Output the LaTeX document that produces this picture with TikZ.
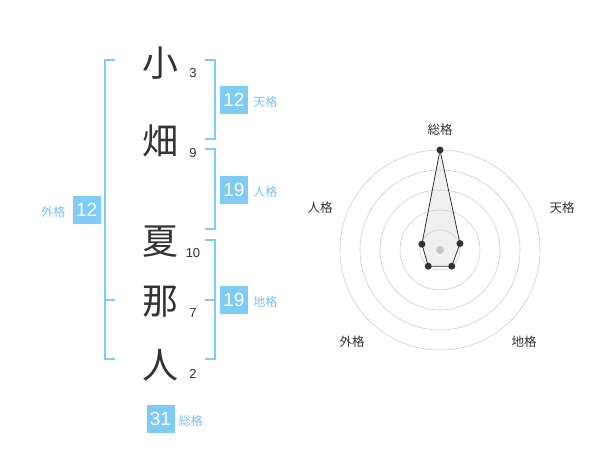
\documentclass[tikz,border=0pt]{standalone}
\usepackage{fontspec}
\setmainfont{Liberation Sans}
\newfontfamily\cjk{Noto Sans CJK JP}
\usetikzlibrary{positioning,calc}
\definecolor{kakublue}{RGB}{126,203,246}
\definecolor{lbltext}{RGB}{120,192,236}
\definecolor{inkgray}{RGB}{51,51,51}

\begin{document}
\begin{tikzpicture}[x=1pt,y=-1pt,
   kanji/.style={font=\cjk\fontsize{36}{36}\selectfont,text=inkgray,inner sep=0pt},
   cnt/.style={font=\fontsize{13}{13}\selectfont,text=inkgray,inner sep=0pt},
   numbox/.style={fill=kakublue,text=white,font=\fontsize{19}{19}\selectfont,minimum size=28pt,inner sep=0pt},
   kaku/.style={font=\cjk\fontsize{12}{12}\selectfont,text=lbltext,inner sep=0pt},
   brk/.style={kakublue,line width=1.6pt},
   axlab/.style={font=\cjk\fontsize{12.5}{12.5}\selectfont,text=inkgray,inner sep=0pt},
   ring/.style={draw=gray!40,line width=0.6pt},
   dot/.style={circle,fill=inkgray,inner sep=0pt,minimum size=7pt}]
  \useasboundingbox (0,0) rectangle (600,470);

  % name and stroke counts
  \node[kanji] (c1) at (160,63) {小};
  \node[kanji] (c2) at (160,141) {畑};
  \node[kanji] (c3) at (160,242) {夏};
  \node[kanji] (c4) at (160,302) {那};
  \node[kanji] (c5) at (160,365) {人};
  \node[cnt] (n1) at (193,73) {3};
  \node[cnt] (n2) at (193,153) {9};
  \node[cnt] (n3) at (193,253) {10};
  \node[cnt] (n4) at (193,313) {7};
  \node[cnt] (n5) at (193,374) {2};

  % brackets
  \draw[brk] (115,60) -- (105,60) -- (105,359) -- (115,359);
  \draw[brk] (105,300) -- (115,300);
  \draw[brk] (205,60) -- (215,60) -- (215,139) -- (205,139);
  \draw[brk] (205,149) -- (215,149) -- (215,229) -- (205,229);
  \draw[brk] (205,240) -- (215,240) -- (215,359) -- (205,359);
  \draw[brk] (205,300) -- (215,300);

  % scores
  \node[numbox] (gai) at (86.7,210) {12};
  \node[kaku,left=7pt of gai,yshift=-2pt] (gailab) {外格};
  \node[numbox] (ten) at (234,100) {12};
  \node[kaku,right=5pt of ten,yshift=-2pt] (tenlab) {天格};
  \node[numbox] (jin) at (234,190) {19};
  \node[kaku,right=5pt of jin,yshift=-2pt] (jinlab) {人格};
  \node[numbox] (chi) at (234,300) {19};
  \node[kaku,right=5pt of chi,yshift=-2pt] (chilab) {地格};
  \node[numbox] (sou) at (160.5,419) {31};
  \node[kaku,right=4pt of sou,yshift=-2pt] (soulab) {総格};

  % radar chart
  \begin{scope}[shift={(440,250)},yscale=-1]
    \coordinate (psou) at (90:100);
    \coordinate (pten) at (18:21);
    \coordinate (pchi) at (-54:20);
    \coordinate (pgai) at (-126:20);
    \coordinate (pjin) at (162:19);
    \fill[gray!12] (psou) -- (pten) -- (pchi) -- (pgai) -- (pjin) -- cycle;
    \foreach \r in {20,40,60,80,100}
      \draw[ring] (0,0) circle[radius=\r];
    \draw[inkgray,line width=0.8pt]
      (psou) -- (pten) -- (pchi) -- (pgai) -- (pjin) -- cycle;
    \fill[gray!45] (0,0) circle[radius=4];
    \foreach \p in {psou,pten,pchi,pgai,pjin}
      \node[dot] at (\p) {};
  \end{scope}
  \node[axlab] (asou) at (440,130) {総格};
  \node[axlab] (aten) at (562,208) {天格};
  \node[axlab] (ajin) at (320,208) {人格};
  \node[axlab] (agai) at (352,342) {外格};
  \node[axlab] (achi) at (524,342) {地格};
\end{tikzpicture}
\end{document}
